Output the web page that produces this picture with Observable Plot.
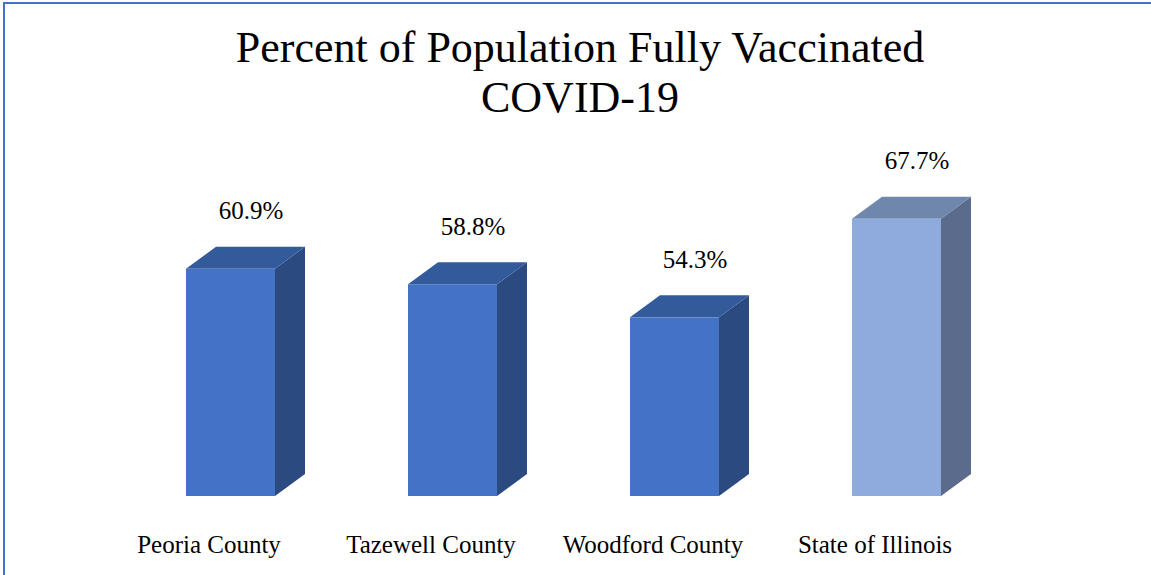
<!DOCTYPE html>
<html>
<head>
<meta charset="utf-8">
<script src="https://cdn.jsdelivr.net/npm/d3@7"></script>
<script src="https://cdn.jsdelivr.net/npm/@observablehq/plot@0.6"></script>
<style>
  html, body { margin: 0; padding: 0; background: #fff; }
  #wrap { position: relative; width: 1151px; height: 575px; overflow: hidden; background: #fff; }
  #topline { position: absolute; left: 3px; top: 2px; width: 1148px; height: 1.5px; background: #4472C4; }
  #leftline { position: absolute; left: 3px; top: 2px; width: 2px; height: 573px; background: #4472C4; }
  #title { position: absolute; left: 0; top: 23px; width: 1160px; text-align: center;
           font-family: "Liberation Serif", serif; font-size: 44px; line-height: 50px; color: #000; }
  #chart { position: absolute; left: 0; top: 0; }
</style>
</head>
<body>
<div id="wrap">
  <div id="chart"></div>
  <div id="topline"></div>
  <div id="leftline"></div>
  <div id="title"></div>
</div>
<script>
const titleLines = ["Percent of Population Fully Vaccinated", "COVID-19"];
const categories = ["Peoria County", "Tazewell County", "Woodford County", "State of Illinois"];
const values = [60.9, 58.8, 54.3, 67.7];
const valueLabels = ["60.9%", "58.8%", "54.3%", "67.7%"];
const axisMin = 30;
const axisMax = 70;

const frontColors = ["#4472C4", "#4472C4", "#4472C4", "#8FAADC"];
const topColors = ["#335A9B", "#335A9B", "#335A9B", "#6F86AD"];
const sideColors = ["#2A4A80", "#2A4A80", "#2A4A80", "#5B6B8C"];

const data = categories.map((c, i) => ({
  name: c, value: values[i], label: valueLabels[i],
  front: frontColors[i], top: topColors[i], side: sideColors[i]
}));

document.getElementById("title").innerHTML = titleLines.join("<br>");

const depthX = 30, depthY = 22;

function depthFaces(index, scales) {
  const x = scales.x, y = scales.y;
  const bw = typeof x.bandwidth === "function" ? x.bandwidth() : x.bandwidth;
  const g = d3.create("svg:g");
  for (const d of data) {
    const x0 = x(d.name), x1 = x0 + bw;
    const yt = y(d.value), yb = y(axisMin);
    // side face
    g.append("polygon")
      .attr("points", [[x1, yb], [x1 + depthX, yb - depthY], [x1 + depthX, yt - depthY], [x1, yt]].map(p => p.join(",")).join(" "))
      .attr("fill", d.side);
    // top face
    g.append("polygon")
      .attr("points", [[x0, yt], [x1, yt], [x1 + depthX, yt - depthY], [x0 + depthX, yt - depthY]].map(p => p.join(",")).join(" "))
      .attr("fill", d.top);
  }
  return g.node();
}

const chart = Plot.plot({
  width: 1151,
  height: 575,
  marginTop: 0,
  marginBottom: 79,
  marginLeft: 0,
  marginRight: 0,
  style: { background: "transparent", fontFamily: "Liberation Serif, serif", color: "#000" },
  x: { domain: categories, range: [186, 941], paddingInner: 0.6, paddingOuter: 0, align: 0, axis: null },
  y: { domain: [axisMin, axisMax], range: [496, 496 - (axisMax - axisMin) * 7.353], axis: null },
  marks: [
    depthFaces,
    Plot.rect(data, { x: "name", y1: () => axisMin, y2: "value", fill: "front" }),
    Plot.text(data, { x: "name", y: "value", text: "label", dx: 20, dy: -58, fontSize: 25, fill: "#000", lineAnchor: "middle" }),
    Plot.text(data, { x: "name", frameAnchor: "bottom", text: "name", dx: -22, dy: 48, fontSize: 25, fill: "#000", lineAnchor: "middle" })
  ]
});
document.getElementById("chart").appendChild(chart);
</script>
</body>
</html>
